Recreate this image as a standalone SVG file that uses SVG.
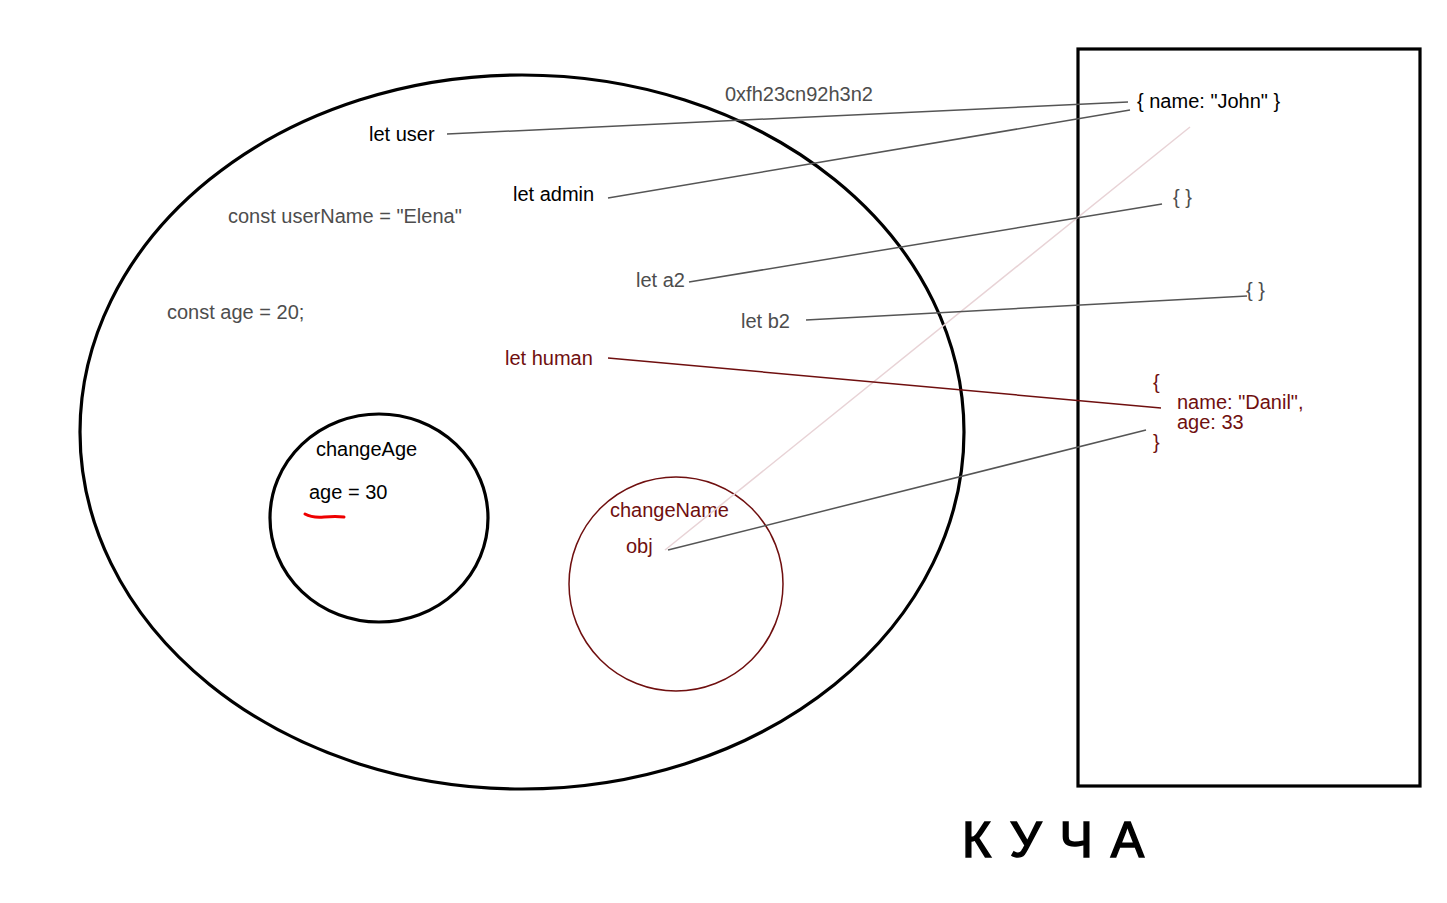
<svg xmlns="http://www.w3.org/2000/svg" width="1447" height="903" viewBox="0 0 1447 903">
<style>
text{font-family:"Liberation Sans",Arial,sans-serif;font-size:20px}
.k{fill:#000}
.g{fill:#4d4d4d}
.r{fill:#6f0f0f}
.lg{stroke:#555;stroke-width:1.5;fill:none}
.lr{stroke:#6f0f0f;stroke-width:1.5;fill:none}
.lp{stroke:#e8d3d6;stroke-width:1.5;fill:none}
.bold{stroke:#000;stroke-width:3.2;fill:none}
</style>
<rect width="1447" height="903" fill="#fff"/>
<g id="stack">
<ellipse class="bold" cx="522" cy="432" rx="442" ry="357"/>
<text class="g" x="725" y="101">0xfh23cn92h3n2</text>
<text class="k" x="369" y="141">let user</text>
<text class="k" x="513" y="201">let admin</text>
<text class="g" x="228" y="223">const userName = "Elena"</text>
<text class="g" x="167" y="319">const age = 20;</text>
<text class="g" x="636" y="287">let a2</text>
<text class="g" x="741" y="328">let b2</text>
<text class="r" x="505" y="365">let human</text>
</g>
<g id="changeAge">
<ellipse class="bold" cx="379" cy="518" rx="109" ry="104"/>
<text class="k" x="316" y="456">changeAge</text>
<text class="k" x="309" y="499">age = 30</text>
<path d="M305 514 Q312 518 324 517 T344 517" stroke="#e00" stroke-width="3" fill="none" stroke-linecap="round"/>
</g>
<g id="changeName">
<circle cx="676" cy="584" r="107" stroke="#6f0f0f" stroke-width="1.5" fill="none"/>
<text class="r" x="610" y="517">changeName</text>
<text class="r" x="626" y="553">obj</text>
</g>
<g id="heap">
<rect x="1078" y="49" width="342" height="737" class="bold"/>
<text class="k" x="1137" y="108">{ name: "John" }</text>
<text class="g" x="1173" y="204">{ }</text>
<text class="g" x="1246" y="297">{ }</text>
<text class="r" x="1153" y="389">{</text>
<text class="r" x="1177" y="409">name: "Danil",</text>
<text class="r" x="1177" y="429">age: 33</text>
<text class="r" x="1153" y="449">}</text>
</g>
<g id="label">
<text x="962" y="857" style="font-size:50px;letter-spacing:18px" fill="#000" stroke="#000" stroke-width="1.5">КУЧА</text>
</g>
<g id="connectors">
<line class="lp" x1="665" y1="550" x2="1190" y2="127"/>
<line class="lg" x1="447" y1="134" x2="1128" y2="102"/>
<line class="lg" x1="608" y1="198" x2="1130" y2="110"/>
<line class="lg" x1="689" y1="282" x2="1162" y2="204"/>
<line class="lg" x1="806" y1="320" x2="1247" y2="296"/>
<line class="lr" x1="608" y1="358" x2="1161" y2="408"/>
<line class="lg" x1="668" y1="550" x2="1146" y2="430"/>
</g>
</svg>
